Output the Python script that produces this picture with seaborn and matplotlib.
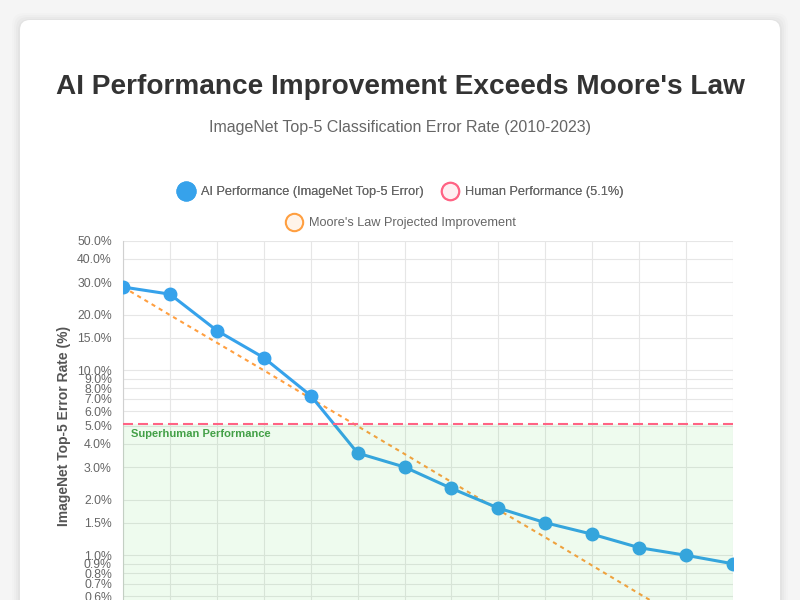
import matplotlib
matplotlib.use('Agg')
import matplotlib.pyplot as plt
import seaborn as sns
import pandas as pd
from matplotlib.patches import FancyBboxPatch
from matplotlib.lines import Line2D
from matplotlib.transforms import IdentityTransform

# data
years = [2010, 2011, 2012, 2013, 2014, 2015, 2016, 2017, 2018, 2019, 2020, 2021, 2022, 2023]
ai_error = [28.2, 25.8, 16.4, 11.7, 7.3, 3.57, 3.0, 2.3, 1.8, 1.5, 1.3, 1.1, 1.0, 0.9]
moore_error = [28.2, 19.9, 14.1, 10.0, 7.05, 4.99, 3.53, 2.49, 1.76, 1.25, 0.88, 0.62, 0.44, 0.31]
human_error = 5.1
y_ticks = [0.5, 0.6, 0.7, 0.8, 0.9, 1.0, 1.5, 2.0, 3.0, 4.0, 5.0, 6.0, 7.0, 8.0, 9.0, 10.0, 15.0, 20.0, 30.0, 40.0, 50.0]
y_tick_labels = ['%.1f%%' % t for t in y_ticks]

df = pd.DataFrame({'year': years, 'ai': ai_error, 'moore': moore_error})

sns.set_theme(style='whitegrid')
plt.rcParams['font.family'] = ['Liberation Sans', 'DejaVu Sans']

BLUE = '#36a2eb'
PINK = '#ff6384'
ORANGE = '#ff9f40'

fig = plt.figure(figsize=(8, 6), dpi=100, facecolor='#f5f5f5')

# white card with soft shadow (pixel coords, bottom runs off the picture)
for i, a in enumerate([0.025, 0.02, 0.015, 0.01]):
    s = FancyBboxPatch((20 - 2 - i * 2, -40), 760 + 4 + i * 4, 620 + 1 + i * 2,
                       boxstyle='round,pad=0,rounding_size=12', transform=IdentityTransform(),
                       facecolor=(0, 0, 0, a), edgecolor='none', zorder=-12)
    fig.add_artist(s)
card = FancyBboxPatch((20, -40), 760, 620, boxstyle='round,pad=0,rounding_size=10',
                      transform=IdentityTransform(), facecolor='white', edgecolor='none', zorder=-10)
fig.add_artist(card)

ax = fig.add_axes([123 / 800, 1 - 611 / 600, 610 / 800, 370 / 600])
ax.set_facecolor('white')

sns.lineplot(data=df, x='year', y='moore', ax=ax, color=ORANGE, linewidth=1.5,
             linestyle=(0, (2, 2)), zorder=3)
sns.lineplot(data=df, x='year', y='ai', ax=ax, color=BLUE, linewidth=2.2, marker='o',
             markersize=9, markeredgecolor=BLUE, markeredgewidth=1, zorder=4)
ax.axhline(human_error, color=PINK, linewidth=1.5, linestyle=(0, (4.8, 2.4)), zorder=6)
ax.axhspan(0.01, human_error, facecolor=(50 / 255, 205 / 255, 50 / 255, 0.08), linewidth=0, zorder=5)

ax.set_yscale('log')
ax.set_ylim(0.5, 50)
ax.set_xlim(2010, 2023)
ax.set_yticks(y_ticks)
ax.set_yticklabels(y_tick_labels)
ax.yaxis.set_minor_locator(matplotlib.ticker.NullLocator())
ax.set_xticks(years)
ax.tick_params(axis='y', labelsize=8.8, colors='#666666', pad=8, length=0)
ax.tick_params(axis='x', length=0, labelbottom=False)
ax.grid(True, color='#e6e6e6', linewidth=0.8)
for side in ['top', 'right', 'bottom']:
    ax.spines[side].set_visible(False)
ax.spines['left'].set_color('#d0d0d0')
ax.spines['left'].set_linewidth(0.8)

ax.set_xlabel('')
ax.set_ylabel('ImageNet Top-5 Error Rate (%)', fontsize=10, fontweight='bold', color='#555555')
ax.yaxis.set_label_coords(-0.085, 0.5)

ax.text(2010.17, 4.55, 'Superhuman Performance', fontsize=8, fontweight='bold', color='#43a047',
        va='center', ha='left', zorder=7)

fig.text(0.5, 1 - 94 / 600, "AI Performance Improvement Exceeds Moore's Law", ha='center', va='baseline',
         fontsize=20.2, fontweight='bold', color='#333333')
fig.text(0.5, 1 - 132 / 600, 'ImageNet Top-5 Classification Error Rate (2010-2023)', ha='center',
         va='baseline', fontsize=11.5, color='#666666')

h_ai = Line2D([], [], linestyle='none', marker='o', markersize=13, markerfacecolor=BLUE,
              markeredgecolor=BLUE, markeredgewidth=1.5)
h_human = Line2D([], [], linestyle='none', marker='o', markersize=12.5, markerfacecolor='#ffeff2',
                 markeredgecolor=PINK, markeredgewidth=1.5)
h_moore = Line2D([], [], linestyle='none', marker='o', markersize=12.5, markerfacecolor='#fff4ea',
                 markeredgecolor=ORANGE, markeredgewidth=1.5)

leg1 = fig.legend([h_ai, h_human], ['AI Performance (ImageNet Top-5 Error)', 'Human Performance (5.1%)'],
                  loc='center', bbox_to_anchor=(0.5, 1 - 192 / 600), ncol=2, frameon=False,
                  fontsize=9.2, handlelength=1.5, handletextpad=0.45, columnspacing=1.3,
                  labelcolor='#666666')
fig.legend([h_moore], ["Moore's Law Projected Improvement"], loc='center',
           bbox_to_anchor=(0.5, 1 - 223 / 600), frameon=False, fontsize=9.2, handlelength=1.5,
           handletextpad=0.45, labelcolor='#666666')
fig.add_artist(leg1)

fig.savefig('out.png', dpi=100, facecolor=fig.get_facecolor())
